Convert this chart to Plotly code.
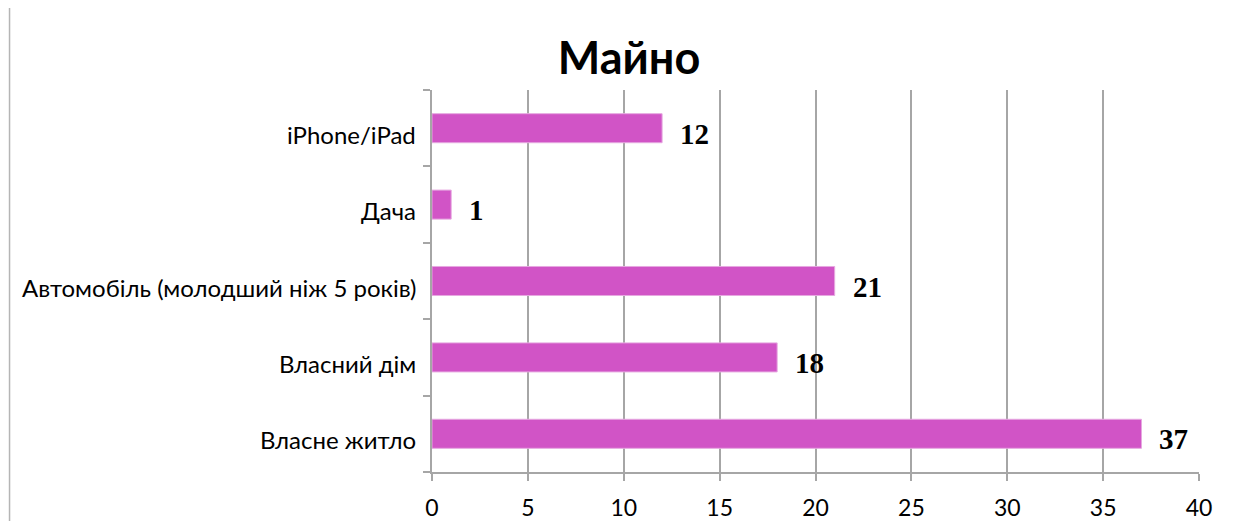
import plotly.graph_objects as go

categories = ["Власне житло", "Власний дім", "Автомобіль (молодший ніж 5 років)", "Дача", "iPhone/iPad"]
values = [37, 18, 21, 1, 12]
x_ticks = [0, 5, 10, 15, 20, 25, 30, 35, 40]
title_text = "Майно"

BAR = "#D154C6"
GRID = "#A6A6A6"
FONT = "Lato"

fig = go.Figure()
fig.add_trace(go.Bar(
    x=values, y=categories, orientation="h",
    marker=dict(color=BAR, line=dict(color="#E6A8E0", width=1)),
    hoverinfo="x+y",
))

for c, v in zip(categories, values):
    fig.add_annotation(x=v, y=c, text=f"<b>{v}</b>", showarrow=False,
                       xanchor="left", yanchor="middle", xshift=16, yshift=-5.5,
                       font=dict(family="Liberation Serif", size=29, color="black"))
    # category label, drawn slightly below the bar centre as in the original
    fig.add_annotation(x=0, xref="paper", y=c, yref="y", text=c, showarrow=False,
                       xanchor="right", yanchor="middle", xshift=-14, yshift=-6,
                       font=dict(family=FONT, size=24, color="black"))

# frame lines of the chart area
for xp in [-0.5508, 1.0528]:
    fig.add_shape(type="line", xref="paper", yref="paper",
                  x0=xp, x1=xp, y0=1.3, y1=-0.3,
                  line=dict(color="#B5B5B5", width=1.5))

fig.update_layout(
    width=1246, height=521,
    margin=dict(l=424, r=55, t=82, b=57),
    paper_bgcolor="white", plot_bgcolor="white",
    showlegend=False,
    bargap=0.62,
    title=dict(text=f"<b>{title_text}</b>", x=621/1246, xanchor="center",
               y=1 - 50/521, yanchor="middle", xref="container", yref="container",
               font=dict(family=FONT, size=45, color="black")),
    font=dict(family=FONT, size=24, color="black"),
)
fig.update_xaxes(
    range=[0, 40], tickvals=x_ticks, showgrid=True, gridcolor=GRID, gridwidth=1.5,
    ticks="outside", ticklen=7, tickcolor=GRID, tickwidth=1.5,
    showline=True, linecolor=GRID, linewidth=1.5, zeroline=False,
    ticklabelstandoff=8, automargin=False,
    tickfont=dict(family=FONT, size=23, color="black"),
)
fig.update_yaxes(
    showgrid=False, tickson="boundaries", ticks="outside", ticklen=7,
    tickcolor=GRID, tickwidth=1.5, showline=True, linecolor=GRID, linewidth=1.5,
    showticklabels=False, automargin=False,
)

fig.write_html("out.html")
